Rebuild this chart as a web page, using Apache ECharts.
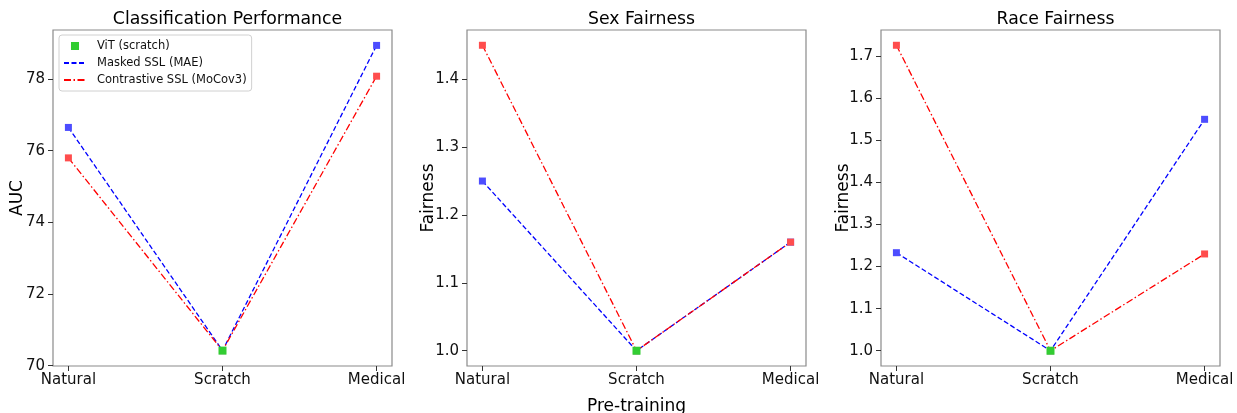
<!DOCTYPE html>
<html><head><meta charset="utf-8">
<script src="https://cdn.jsdelivr.net/npm/echarts@6/dist/echarts.min.js"></script>
<style>html,body{margin:0;padding:0;background:#fff}#c{width:1237px;height:413px}</style>
</head><body><div id="c"></div>
<script>
const categories = ['Natural', 'Scratch', 'Medical'];
const titles = ['Classification Performance', 'Sex Fairness', 'Race Fairness'];
const yNames = ['AUC', 'Fairness', 'Fairness'];
const seriesNames = ['ViT (scratch)', 'Masked SSL (MAE)', 'Contrastive SSL (MoCov3)'];

const aucVit = [null, 70.42, null];
const aucMae = [76.65, 70.42, 78.94];
const aucMoco = [75.80, 70.42, 78.08];

const sexVit = [null, 1.0, null];
const sexMae = [1.25, 1.0, 1.16];
const sexMoco = [1.45, 1.0, 1.16];

const raceVit = [null, 1.0, null];
const raceMae = [1.233, 1.0, 1.55];
const raceMoco = [1.726, 1.0, 1.23];

const aucTicks = [70, 72, 74, 76, 78];
const sexTicks = [1.0, 1.1, 1.2, 1.3, 1.4];
const raceTicks = [1.0, 1.1, 1.2, 1.3, 1.4, 1.5, 1.6, 1.7];

const FONT = 'DejaVu Sans';
const panels = [
  {left: 53, width: 339, vit: aucVit, mae: aucMae, moco: aucMoco, ticks: aucTicks, ymin: 69.99, ymax: 79.37, dec: 0, nameGap: 27},
  {left: 467, width: 339, vit: sexVit, mae: sexMae, moco: sexMoco, ticks: sexTicks, ymin: 0.9775, ymax: 1.4725, dec: 1, nameGap: 30},
  {left: 881, width: 339, vit: raceVit, mae: raceMae, moco: raceMoco, ticks: raceTicks, ymin: 0.9637, ymax: 1.7623, dec: 1, nameGap: 29}
];
const toPairs = arr => arr.map((v, i) => v == null ? null : [i, v]).filter(p => p);

const grids = [], xAxes = [], yAxes = [], series = [], titleArr = [];
panels.forEach((p, k) => {
  grids.push({left: p.left, width: p.width, top: 30, height: 336, show: true, outerBoundsMode: 'none', containLabel: false,
    borderColor: '#8a8a8a', borderWidth: 1.2, backgroundColor: 'transparent'});
  titleArr.push({text: titles[k], left: p.left + p.width / 2, top: 6, textAlign: 'center',
    textStyle: {fontFamily: FONT, fontSize: 17.3, fontWeight: 'normal', color: '#000'}});
  xAxes.push({type: 'value', gridIndex: k, min: -0.1, max: 2.1,
    name: k === 1 ? 'Pre-training' : '', nameLocation: 'middle', nameGap: 32, nameMoveOverlap: false,
    nameTextStyle: {fontFamily: FONT, fontSize: 17, color: '#000'},
    axisLine: {show: false, onZero: false}, splitLine: {show: false},
    axisTick: {show: true, length: 5, lineStyle: {color: '#333'}, customValues: [0, 1, 2]},
    axisLabel: {customValues: [0, 1, 2], margin: 7, fontFamily: FONT, fontSize: 15, color: '#111',
      formatter: v => categories[Math.round(v)]}});
  yAxes.push({type: 'value', gridIndex: k, min: p.ymin, max: p.ymax,
    name: yNames[k], nameLocation: 'middle', nameGap: p.nameGap, nameRotate: 90, nameMoveOverlap: false,
    nameTextStyle: {fontFamily: FONT, fontSize: 17, color: '#000'},
    axisLine: {show: false, onZero: false}, splitLine: {show: false},
    axisTick: {show: true, length: 5, lineStyle: {color: '#333'}, customValues: p.ticks},
    axisLabel: {customValues: p.ticks, margin: 8, fontFamily: FONT, fontSize: 15, color: '#111',
      formatter: v => Number(v).toFixed(p.dec)}});
  series.push({name: seriesNames[1], type: 'line', xAxisIndex: k, yAxisIndex: k, data: toPairs(p.mae),
    symbol: 'rect', symbolSize: 7, itemStyle: {color: '#4d4dff'},
    lineStyle: {color: '#0000ff', width: 1.3, type: [5, 2.5]}, z: 2, animation: false});
  series.push({name: seriesNames[2], type: 'line', xAxisIndex: k, yAxisIndex: k, data: toPairs(p.moco),
    symbol: 'rect', symbolSize: 7, itemStyle: {color: '#ff4d4d'},
    lineStyle: {color: '#ff0000', width: 1.3, type: [7, 2.5, 1.5, 2.5]}, z: 3, animation: false});
  series.push({name: seriesNames[0], type: 'line', xAxisIndex: k, yAxisIndex: k, data: toPairs(p.vit),
    symbol: 'rect', symbolSize: 8, itemStyle: {color: '#32cd32'},
    lineStyle: {width: 0, opacity: 0}, z: 4, animation: false});
});

const chart = echarts.init(document.getElementById('c'), null, {renderer: 'canvas'});
chart.setOption({
  animation: false,
  backgroundColor: '#fff',
  title: titleArr,
  grid: grids, xAxis: xAxes, yAxis: yAxes, series: series,
  legend: {
    orient: 'vertical', left: 59, top: 35,
    padding: [5, 5, 5, 4], itemGap: 5, itemWidth: 22, itemHeight: 10,
    borderColor: '#d0d0d0', borderWidth: 1, borderRadius: 3, backgroundColor: '#fff',
    textStyle: {fontFamily: FONT, fontSize: 11.5, color: '#111', padding: [0, 0, 0, 6]},
    data: [
      {name: seriesNames[0], itemStyle: {opacity: 1}},
      {name: seriesNames[1], itemStyle: {opacity: 0}},
      {name: seriesNames[2], itemStyle: {opacity: 0}}
    ]
  }
});
</script></body></html>
